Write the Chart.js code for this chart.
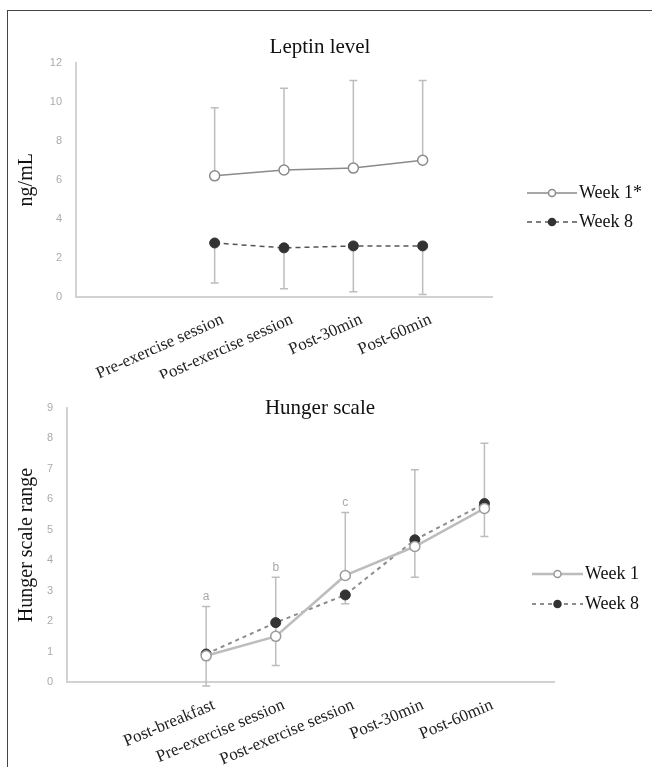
<!DOCTYPE html>
<html>
<head>
<meta charset="utf-8">
<title>Leptin level and hunger scale</title>
<script src="https://cdn.jsdelivr.net/npm/chart.js@4.4.1/dist/chart.umd.min.js"></script>
<style>
  html, body { margin: 0; padding: 0; background: #fff; }
  body { width: 652px; height: 767px; position: relative; overflow: hidden; }
  .frame {
    position: absolute; left: 7px; top: 10px; width: 660px; height: 800px;
    border-left: 1px solid #444; border-top: 1px solid #444;
  }
  .panel { position: absolute; left: 0; width: 652px; }
  #leptin-wrap { top: 0; height: 382px; }
  #hunger-wrap { top: 370px; height: 397px; }
</style>
</head>
<body>
<div class="frame"></div>
<div class="panel" id="leptin-wrap"><canvas id="leptin-chart" width="652" height="382"></canvas></div>
<div class="panel" id="hunger-wrap"><canvas id="hunger-chart" width="652" height="397"></canvas></div>

<script>
// Leptin level (ng/mL)
const leptinLabels = ['', '', 'Pre-exercise session', 'Post-exercise session', 'Post-30min', 'Post-60min', ''];
const leptinWeek1 = [null, null, 6.2, 6.5, 6.6, 7.0, null];
const leptinWeek1Upper = [null, null, 9.7, 10.7, 11.1, 11.1, null];
const leptinWeek8 = [null, null, 2.75, 2.5, 2.6, 2.6, null];
const leptinWeek8Lower = [null, null, 0.7, 0.4, 0.25, 0.1, null];

// Hunger scale
const hungerLabels = ['', '', 'Post-breakfast', 'Pre-exercise session', 'Post-exercise session', 'Post-30min', 'Post-60min', ''];
const hungerWeek1 = [null, null, 0.86, 1.5, 3.5, 4.45, 5.7, null];
const hungerWeek1Upper = [null, null, 2.48, 3.44, 5.57, 6.97, 7.84, null];
const hungerWeek8 = [null, null, 0.92, 1.95, 2.86, 4.67, 5.86, null];
const hungerWeek8Lower = [null, null, -0.13, 0.54, 2.57, 3.44, 4.78, null];
const hungerLetters = ['', '', 'a', 'b', 'c', '', '', ''];

const SERIF = '"Liberation Serif", "Times New Roman", serif';
const SANS = '"Liberation Sans", Arial, sans-serif';

// Error bars drawn under the points, from each point to its end value
const errorBarPlugin = {
    id: 'errorBars',
    beforeDatasetsDraw(chart) {
        const ctx = chart.ctx;
        const yScale = chart.scales.y;
        chart.data.datasets.forEach((ds, i) => {
            if (!ds.errorEnd) return;
            const meta = chart.getDatasetMeta(i);
            ctx.save();
            ctx.strokeStyle = '#bdbdbd';
            ctx.fillStyle = '#a8a8a8';
            ctx.lineWidth = 1.5;
            ctx.font = '12px ' + SANS;
            ctx.textAlign = 'center';
            ctx.textBaseline = 'middle';
            meta.data.forEach((pt, j) => {
                const end = ds.errorEnd[j];
                if (end == null || ds.data[j] == null) return;
                const yEnd = yScale.getPixelForValue(end);
                ctx.beginPath();
                ctx.moveTo(pt.x, pt.y);
                ctx.lineTo(pt.x, yEnd);
                ctx.moveTo(pt.x - 4, yEnd);
                ctx.lineTo(pt.x + 4, yEnd);
                ctx.stroke();
                if (ds.letters && ds.letters[j]) {
                    ctx.fillText(ds.letters[j], pt.x, yEnd - 10);
                }
            });
            ctx.restore();
        });
    }
};

// Panel title and legend with line samples
const panelTextPlugin = {
    id: 'panelText',
    afterDraw(chart, args, opts) {
        const ctx = chart.ctx;
        ctx.save();
        ctx.fillStyle = '#111';
        ctx.font = '21px ' + SERIF;
        ctx.textAlign = 'center';
        ctx.textBaseline = 'middle';
        ctx.fillText(opts.title, opts.titleX, opts.titleY);

        ctx.font = '18px ' + SERIF;
        ctx.textAlign = 'left';
        chart.data.datasets.forEach((ds, i) => {
            const y = opts.legendY + i * opts.legendGap;
            const x0 = opts.legendX;
            const x1 = x0 + opts.legendLine;
            ctx.save();
            ctx.strokeStyle = ds.borderColor;
            ctx.lineWidth = ds.borderWidth;
            ctx.setLineDash(ds.borderDash || []);
            ctx.beginPath();
            ctx.moveTo(x0, y);
            ctx.lineTo(x1, y);
            ctx.stroke();
            ctx.setLineDash([]);
            ctx.beginPath();
            ctx.arc((x0 + x1) / 2, y, 3.5, 0, Math.PI * 2);
            ctx.fillStyle = ds.pointBackgroundColor;
            ctx.fill();
            ctx.strokeStyle = ds.pointBorderColor;
            ctx.lineWidth = 1.5;
            ctx.stroke();
            ctx.restore();
            ctx.fillText(ds.label, x1 + 2, y);
        });
        ctx.restore();
    }
};

function makeScales(opts) {
    return {
        x: {
            offset: false,
            grid: { display: false, drawTicks: false },
            border: { display: true, color: '#d2d2d2', width: 2 },
            ticks: {
                autoSkip: false,
                minRotation: opts.rotation,
                maxRotation: opts.rotation,
                color: '#222',
                font: { family: SERIF, size: 17 },
                padding: 13,
                labelOffset: 8
            },
            afterFit(scale) { scale.height = opts.xHeight; }
        },
        y: {
            min: opts.min,
            max: opts.max,
            grid: { display: false, drawTicks: false },
            border: { display: true, color: '#d2d2d2', width: 2 },
            ticks: {
                stepSize: opts.step,
                color: '#ababab',
                font: { family: SANS, size: 11 },
                padding: 14
            },
            title: {
                display: true,
                text: opts.yTitle,
                color: '#111',
                font: { family: SERIF, size: 20 },
                padding: { top: 15, bottom: 0 }
            },
            afterFit(scale) { scale.width = opts.yWidth; }
        }
    };
}

// Leptin chart
new Chart(document.getElementById('leptin-chart'), {
    type: 'line',
    data: {
        labels: leptinLabels,
        datasets: [
            {
                label: 'Week 1*',
                data: leptinWeek1,
                errorEnd: leptinWeek1Upper,
                borderColor: '#8a8a8a',
                borderWidth: 1.5,
                pointRadius: 5,
                pointBackgroundColor: '#ffffff',
                pointBorderColor: '#8a8a8a',
                pointBorderWidth: 1.5,
                tension: 0
            },
            {
                label: 'Week 8',
                data: leptinWeek8,
                errorEnd: leptinWeek8Lower,
                borderColor: '#555555',
                borderWidth: 1.5,
                borderDash: [5, 4],
                pointRadius: 5,
                pointBackgroundColor: '#333333',
                pointBorderColor: '#333333',
                pointBorderWidth: 1,
                tension: 0
            }
        ]
    },
    options: {
        responsive: false,
        animation: false,
        layout: { padding: { left: 0, right: 160, top: 63, bottom: 3.5 } },
        scales: makeScales({
            rotation: 24, xHeight: 82, yWidth: 76,
            min: 0, max: 12, step: 2, yTitle: 'ng/mL'
        }),
        plugins: {
            legend: { display: false },
            tooltip: { enabled: false },
            panelText: {
                title: 'Leptin level', titleX: 320, titleY: 47,
                legendX: 527, legendY: 193, legendGap: 29, legendLine: 50
            }
        }
    },
    plugins: [errorBarPlugin, panelTextPlugin]
});

// Hunger chart
new Chart(document.getElementById('hunger-chart'), {
    type: 'line',
    data: {
        labels: hungerLabels,
        datasets: [
            {
                label: 'Week 1',
                data: hungerWeek1,
                errorEnd: hungerWeek1Upper,
                letters: hungerLetters,
                borderColor: '#bdbdbd',
                borderWidth: 2.5,
                pointRadius: 5,
                pointBackgroundColor: '#ffffff',
                pointBorderColor: '#9a9a9a',
                pointBorderWidth: 1.5,
                tension: 0
            },
            {
                label: 'Week 8',
                data: hungerWeek8,
                errorEnd: hungerWeek8Lower,
                borderColor: '#8c8c8c',
                borderWidth: 2,
                borderDash: [4, 4],
                pointRadius: 5,
                pointBackgroundColor: '#333333',
                pointBorderColor: '#333333',
                pointBorderWidth: 1,
                tension: 0
            }
        ]
    },
    options: {
        responsive: false,
        animation: false,
        layout: { padding: { left: 0, right: 98, top: 38, bottom: 1 } },
        scales: makeScales({
            rotation: 23, xHeight: 84, yWidth: 67,
            min: 0, max: 9, step: 1, yTitle: 'Hunger scale range'
        }),
        plugins: {
            legend: { display: false },
            tooltip: { enabled: false },
            panelText: {
                title: 'Hunger scale', titleX: 320, titleY: 38,
                legendX: 532, legendY: 204, legendGap: 30, legendLine: 51
            }
        }
    },
    plugins: [errorBarPlugin, panelTextPlugin]
});
</script>
</body>
</html>
